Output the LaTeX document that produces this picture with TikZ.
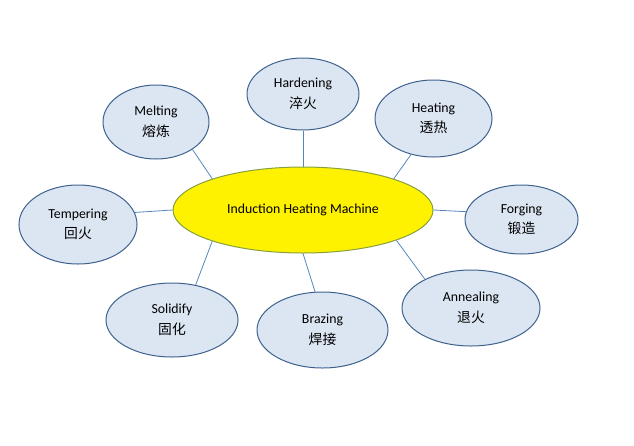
\documentclass[tikz,border=0pt]{standalone}
\usepackage{fontspec}
\setmainfont{Carlito}
\newfontfamily\cjk{Noto Sans CJK SC}
\usepackage{tikz}
\usetikzlibrary{shapes.geometric}

\definecolor{procfill}{RGB}{220,230,242}
\definecolor{procline}{RGB}{62,98,142}
\definecolor{linkline}{RGB}{86,134,190}
\definecolor{hubline}{RGB}{135,160,62}

\begin{document}
\begin{tikzpicture}[
  x=1pt,y=-1pt,
  font=\fontsize{13.8}{20.5}\selectfont,
  proc/.style={ellipse,draw=procline,line width=1pt,fill=procfill,inner sep=0pt,align=center},
  hub/.style={ellipse,draw=hubline,line width=1pt,fill=yellow,inner sep=0pt,
    minimum width=260pt,minimum height=86pt},
  link/.style={draw=linkline,line width=0.8pt},
]
  \useasboundingbox (0,0) rectangle (634,445);
  % centre
  \node[hub] (main) at (303,210) {Induction Heating Machine};
  % processes round it
  \node[proc,minimum width=112pt,minimum height=72pt] (hard) at (303,94) {Hardening\\{\cjk 淬火}};
  \node[proc,minimum width=106pt,minimum height=74pt] (melt) at (156,122) {Melting\\{\cjk 熔炼}};
  \node[proc,minimum width=117pt,minimum height=77pt] (heat) at (433.5,118.5) {Heating\\{\cjk 透热}};
  \node[proc,minimum width=118pt,minimum height=79pt] (temp) at (78,224.5) {Tempering\\{\cjk 回火}};
  \node[proc,minimum width=113pt,minimum height=69pt] (forg) at (521.5,219.5) {Forging\\{\cjk 锻造}};
  \node[proc,minimum width=132pt,minimum height=74pt] (soli) at (172,320) {Solidify\\{\cjk 固化}};
  \node[proc,minimum width=131pt,minimum height=76pt] (braz) at (322.5,330) {Brazing\\{\cjk 焊接}};
  \node[proc,minimum width=138pt,minimum height=76pt] (anne) at (471,308) {Annealing\\{\cjk 退火}};
  % spokes
  \draw[link] (hard.south) -- (main.north);
  \draw[link] (melt.-37) -- (main.161);
  \draw[link] (heat.238) -- (main.19);
  \draw[link] (temp.12) -- (main.west);
  \draw[link] (forg.172) -- (main.east);
  \draw[link] (soli.56) -- (main.199);
  \draw[link] (braz.101) -- (main.south);
  \draw[link] (anne.148) -- (main.-18);
\end{tikzpicture}
\end{document}
